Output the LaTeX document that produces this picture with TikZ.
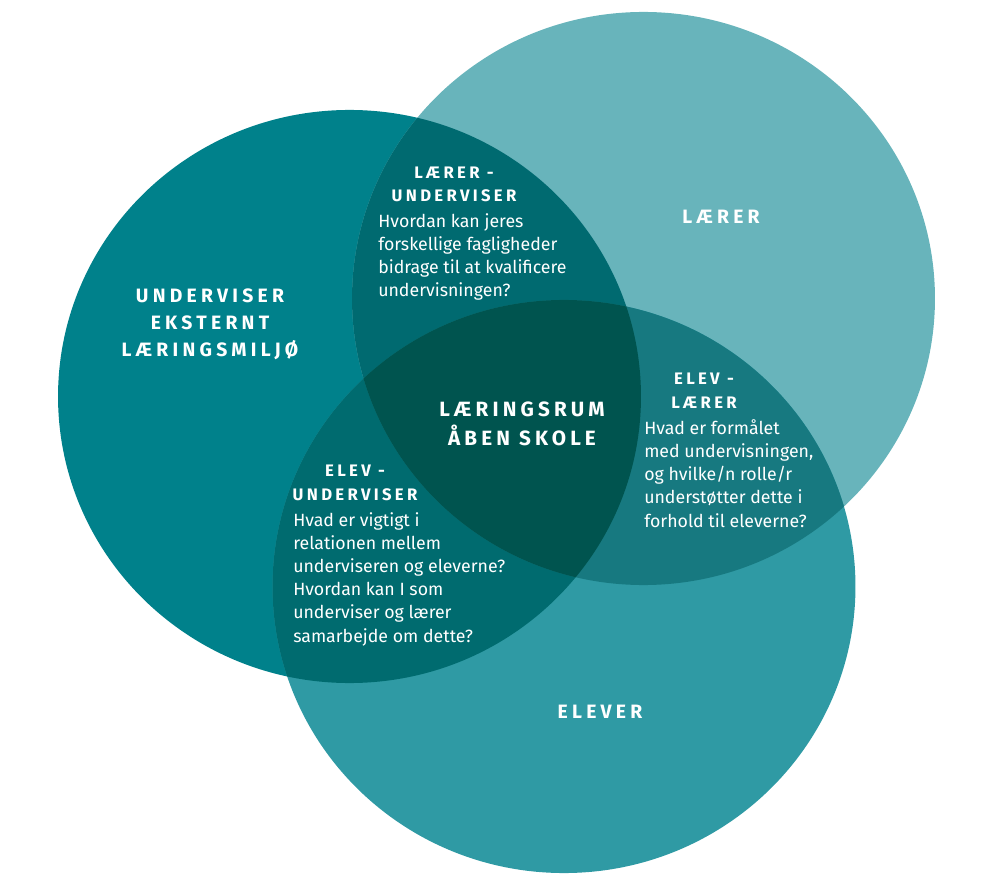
\documentclass[tikz,border=0pt]{standalone}
\usepackage{fontspec}
\setmainfont{Fira Sans}
\newfontfamily\capsfont[LetterSpace=20]{Fira Sans}
\newfontfamily\titlefont[LetterSpace=22]{Fira Sans}
\definecolor{undcol}{HTML}{00818B}
\definecolor{larcol}{HTML}{68B4BB}
\definecolor{elecol}{HTML}{2F9AA4}
\definecolor{ulcol}{HTML}{006A70}
\definecolor{uecol}{HTML}{006B6F}
\definecolor{lecol}{HTML}{177980}
\definecolor{midcol}{HTML}{00544F}
\tikzset{
  ring/.style  = {x radius=218.6pt, y radius=214.9pt},
  title/.style = {font=\titlefont\bfseries\fontsize{14.5}{20.3}\selectfont, text=white,
                  align=center, inner sep=0pt},
  head/.style  = {font=\capsfont\bfseries\fontsize{12.5}{17.5}\selectfont, text=white,
                  align=center, inner sep=0pt, anchor=base},
  body/.style  = {font=\fontsize{13.3}{17.3}\selectfont, text=white,
                  align=left, inner sep=0pt, anchor=base west},
}
\begin{document}
\begin{tikzpicture}[x=0.75pt,y=-0.75pt]
  \useasboundingbox (0,0) rectangle (1000,884);
  \coordinate (U) at (349.5,396.5);
  \coordinate (L) at (643.5,298.5);
  \coordinate (E) at (564,586.5);
  % circles
  \fill[undcol] (U) ellipse[ring];
  \fill[larcol] (L) ellipse[ring];
  \fill[elecol] (E) ellipse[ring];
  % overlaps
  \begin{scope}
    \clip (U) ellipse[ring];
    \fill[ulcol] (L) ellipse[ring];
    \fill[uecol] (E) ellipse[ring];
  \end{scope}
  \begin{scope}
    \clip (L) ellipse[ring];
    \fill[lecol] (E) ellipse[ring];
    \clip (E) ellipse[ring];
    \fill[midcol] (U) ellipse[ring];
  \end{scope}
  % labels (base = last line)
  \node[title] (und) at (210,324) {UNDERVISER\\EKSTERNT\\LÆRINGSMILJØ};
  \node[title] (lar) at (721,217) {LÆRER};
  \node[title] (ele) at (600,712) {ELEVER};
  \node[title, font=\capsfont\bfseries\fontsize{15.5}{21.5}\selectfont] (mid) at (522,424)
    {LÆRINGSRUM\\ÅBEN SKOLE};
  \node[head] (ulh) at (454,202) {LÆRER -\\UNDERVISER};
  \node[body] (ulb) at (378,297) {Hvordan kan jeres\\forskellige fagligheder\\
    bidrage til at kvalificere\\undervisningen?};
  \node[head] (leh) at (704,408) {ELEV -\\LÆRER};
  \node[body] (leb) at (644,527) {Hvad er formålet\\med undervisningen,\\
    og hvilke/n rolle/r\\understøtter dette i\\forhold til eleverne?};
  \node[head] (ueh) at (355,500) {ELEV -\\UNDERVISER};
  \node[body] (ueb) at (293,642) {Hvad er vigtigt i\\relationen mellem\\
    underviseren og eleverne?\\Hvordan kan I som\\underviser og lærer\\
    samarbejde om dette?};
\end{tikzpicture}
\end{document}
